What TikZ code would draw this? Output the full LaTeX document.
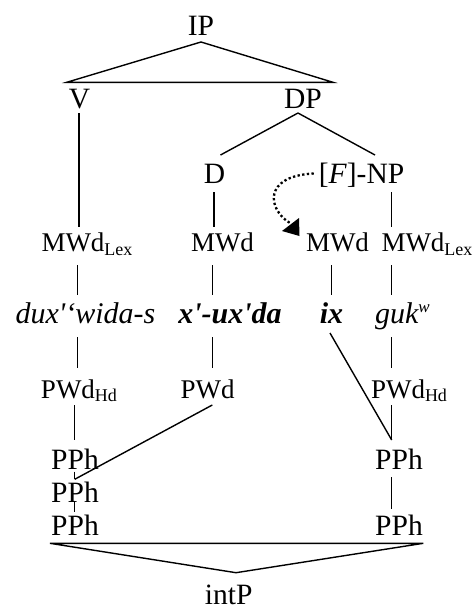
\documentclass[tikz,border=0pt]{standalone}
\usepackage{fontspec}
\setmainfont{Liberation Serif}
\usetikzlibrary{calc}
\newcommand{\subx}[1]{\rlap{\raisebox{-3.5pt}{\fontsize{18}{18}\selectfont #1}}}
\tikzset{
  every node/.style={inner sep=5pt, outer sep=0pt, anchor=base},
  big/.style={font=\fontsize{29.5}{29.5}\selectfont},
  sm/.style={font=\fontsize{27}{27}\selectfont},
  wd/.style={font=\fontsize{30}{30}\selectfont\itshape},
  ln/.style={line width=1.4pt},
  dots/.style={line width=2.3pt, dash pattern=on 2.3pt off 2.4pt},
}
\begin{document}
\begin{tikzpicture}[x=1pt,y=-1pt]
\useasboundingbox (0,0) rectangle (472,611);
% nodes
\node[big, text height=20pt, text depth=2pt] (IP) at (201,35) {IP};
\node[big, text height=20pt, text depth=0pt] (V) at (79.5,108) {V};
\node[big, text height=20pt, text depth=0pt] (DP) at (303,108) {DP};
\node[big, text height=23pt, text depth=4pt] (D) at (214.5,183) {D};
\node[big, text height=23pt, text depth=4pt] (NP) at (361.5,183) {[\textit{F}]-NP};
\node[sm, text height=19.7pt, text depth=8.3pt] (M1) at (73,251.7) {MWd\subx{Lex}};
\node[sm, text height=19.7pt, text depth=8.3pt] (M2) at (222.5,251.7) {MWd};
\node[sm, text height=19.7pt, text depth=8.3pt] (M3) at (337.5,251.7) {MWd};
\node[sm, text height=19.7pt, text depth=8.3pt] (M4) at (413,251.7) {MWd\subx{Lex}};
\node[wd, text height=23.3pt, text depth=8.7pt] (W1) at (85.5,323.3) {dux\textquotesingle‘wida-s};
\node[wd, text height=23.3pt, text depth=8.7pt] (W2) at (230,323.3) {\bfseries x\textquotesingle-ux\textquotesingle da};
\node[wd, text height=23.3pt, text depth=8.7pt] (W3) at (331.5,323.3) {\bfseries ix};
\node[wd, text height=23.3pt, text depth=8.7pt] (W4) at (396.7,323.3) {guk\rlap{\raisebox{11pt}{\fontsize{17}{17}\selectfont w}}};
\node[sm, text height=25pt, text depth=1.7pt] (P1) at (68,398.3) {PWd\subx{Hd}};
\node[sm, text height=25pt, text depth=1.7pt] (P2) at (207.5,398.3) {PWd};
\node[sm, text height=25pt, text depth=1.7pt] (P3) at (398,398.3) {PWd\subx{Hd}};
\node[big, text height=24.3pt, text depth=3pt] (H1) at (75,469.3) {PPh};
\node[big, text height=24.3pt, text depth=3pt] (H4) at (399,469.3) {PPh};
\node[big, text height=20pt, text depth=3pt] (H2) at (75,502.3) {PPh};
\node[big, text height=20.7pt, text depth=3.3pt] (H3) at (75,535) {PPh};
\node[big, text height=20.7pt, text depth=3.3pt] (H5) at (399,535) {PPh};
\node[big, inner sep=1pt, text height=20pt, text depth=0pt] (intP) at (228.7,604.5) {intP};
% column and corner coordinates
\coordinate (c1a) at (79,0);
\coordinate (c1) at (77.7,0);
\coordinate (c1b) at (74.7,0);
\coordinate (c2a) at (214,0);
\coordinate (c2) at (212.3,0);
\coordinate (c3) at (331.7,0);
\coordinate (c4) at (391.7,0);
\coordinate (tl) at (66.7,82.3);
\coordinate (tr) at (333,82.3);
\coordinate (bl) at (50,543.3);
\coordinate (br) at (423.3,543.3);
\coordinate (ap) at (236,572.7);
\coordinate (ae) at (290,223);
\coordinate (at) at (282,231);
\coordinate (ab1) at (299,218);
\coordinate (ab2) at (299.5,236);
% connectors
\draw[ln, line join=miter] (IP.south) -- (tl) -- (tr) -- cycle;
\draw[ln] (V.south -| c1a) -- (M1.north -| c1a);
\draw[ln] ($(DP.south)+(-5,0)$) -- ($(D.north)+(6,0)$);
\draw[ln] ($(DP.south)+(-5,0)$) -- ($(NP.north)+(13.5,0)$);
\draw[ln] (D.south -| c2a) -- (M2.north -| c2a);
\draw[ln] (NP.south -| c4) -- (M4.north -| c4);
\draw[ln] (M1.south -| c1) -- (W1.north -| c1);
\draw[ln] (M2.south -| c2) -- (W2.north -| c2);
\draw[ln] (M3.south -| c3) -- (W3.north -| c3);
\draw[ln] (M4.south -| c4) -- (W4.north -| c4);
\draw[ln] (W1.south -| c1) -- (P1.north -| c1);
\draw[ln] (W2.south -| c2) -- (P2.north -| c2);
\draw[ln] ($(W3.south)+(-1.5,-4)$) -- (H4.north -| c4);
\draw[ln] (W4.south -| c4) -- (P3.north -| c4);
\draw[ln] (P1.south -| c1b) -- (H1.north -| c1b);
\draw[ln] (P2.south -| c2) -- ($(H1.south -| c1b)+(0,2)$);
\draw[ln] ($(H1.base -| c1b)+(0,2.4)$) -- ($(H1.base -| c1b)+(0,10)$);
\draw[ln] ($(H2.base -| c1b)+(0,-0.6)$) -- ($(H2.base -| c1b)+(0,9.4)$);
\draw[ln] (P3.south -| c4) -- (H4.north -| c4);
\draw[ln] (H4.south -| c4) -- (H5.north -| c4);
\draw[ln, line join=miter] (bl) -- (br) -- (ap) -- cycle;
\draw[dots] (NP.west) .. controls (262,176) and (268,210) .. (ae);
\fill (at) -- (ab1) -- (ab2) -- cycle;
\end{tikzpicture}
\end{document}
